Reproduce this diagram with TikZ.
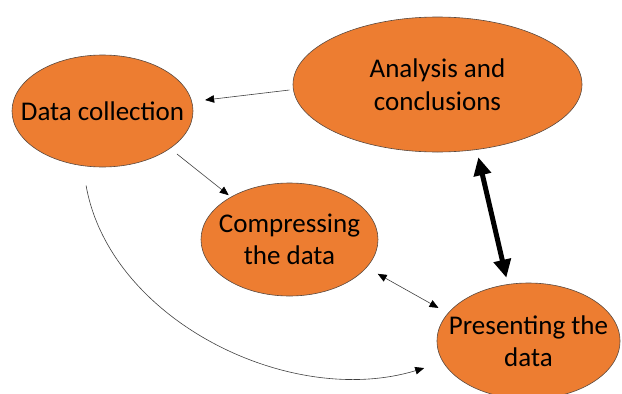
\documentclass[tikz,border=0pt]{standalone}
\usepackage{fontspec}
\setmainfont{Carlito}
\usetikzlibrary{shapes.geometric,arrows.meta}
\definecolor{stageorange}{HTML}{ED7D31}
\definecolor{stageedge}{HTML}{5A4A40}
\tikzset{
  % the ellipse keeps its given size; the caption sits on top as a centre label
  stage/.style 2 args={ellipse, draw=stageedge, line width=0.6pt, fill=stageorange,
    inner sep=0pt, outer sep=0pt, minimum width=#1, minimum height=#2},
  caption/.style={align=center, inner sep=0pt, font=\fontsize{27}{32.5}\selectfont},
  thinarrow/.style={draw=black!75, line width=0.6pt,
    -{Triangle[length=9pt,width=7.5pt,color=black]}},
  thinboth/.style={thinarrow,
    {Triangle[length=9pt,width=7.5pt,color=black]}-{Triangle[length=9pt,width=7.5pt,color=black]}},
  thickboth/.style={draw=black, line width=5pt,
    {Triangle[length=18pt,width=17pt]}-{Triangle[length=18pt,width=17pt]}}
}
\begin{document}
\begin{tikzpicture}[x=1pt,y=-1pt]
  \useasboundingbox (0,0) rectangle (622,394);
  % the four stages
  \node[stage={181pt}{112pt}, label={[caption]center:Data collection}] (dc) at (102.5,111) {};
  \node[stage={289pt}{135pt}, label={[caption]center:Analysis and\\conclusions}] (an) at (437.5,84.5) {};
  \node[stage={177pt}{113pt}, label={[caption]center:Compressing\\the data}] (cp) at (289.5,239.5) {};
  \node[stage={183pt}{116pt}, label={[caption]center:Presenting the\\data}] (pr) at (528.5,341) {};
  % connectors
  \draw[thinarrow, shorten <=4pt, shorten >=13.5pt] (an.182.9) -- (dc.6.7);
  \draw[thinarrow, shorten <=9pt, shorten >=3pt] (dc.-29.1) -- (cp.144.8);
  \draw[thinboth, shorten <=13pt, shorten >=11pt] (cp.-20.7) -- (pr.161.3);
  \draw[thickboth, shorten <=8pt, shorten >=7pt] (an.-59.6) -- (pr.110.5);
  \draw[thinarrow, shorten <=20pt, shorten >=20pt]
    (dc.250.6) .. controls +(26.8,153.6) and +(-154.1,46.8) .. (pr.194.9);
\end{tikzpicture}
\end{document}
